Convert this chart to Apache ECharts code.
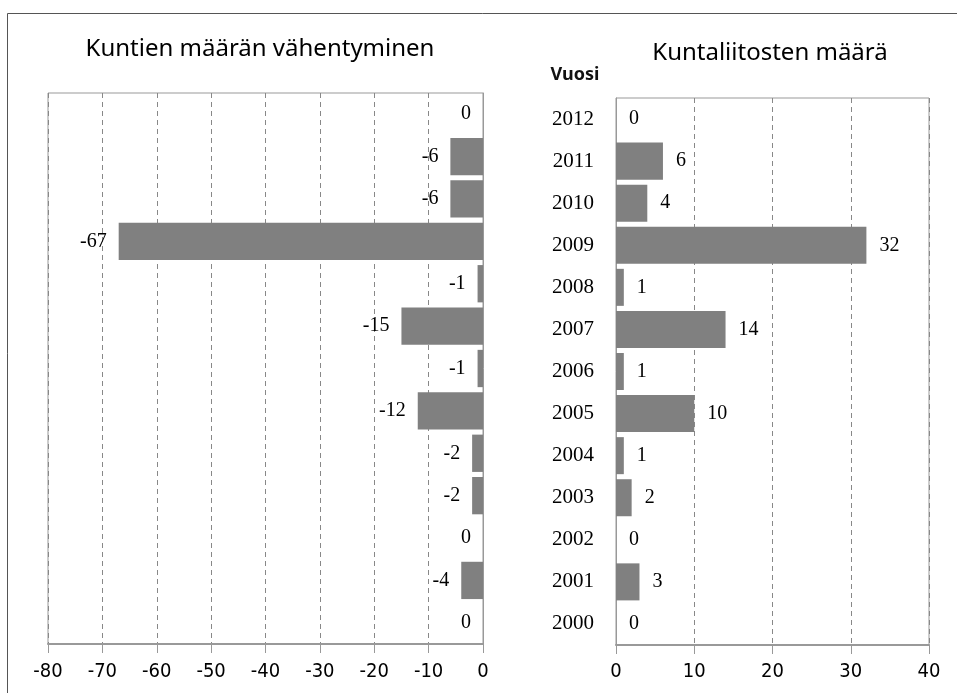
<!DOCTYPE html>
<html>
<head>
<meta charset="utf-8">
<script src="https://cdn.jsdelivr.net/npm/echarts@6/dist/echarts.min.js"></script>
<style>
  html, body { margin: 0; padding: 0; background: #fff; }
  #chart { width: 957px; height: 693px; }
</style>
</head>
<body>
<div id="chart"></div>
<script>
// vuodet alhaalta ylös
var years = ['2000','2001','2002','2003','2004','2005','2006','2007','2008','2009','2010','2011','2012'];
var decrease = [0, -4, 0, -2, -2, -12, -1, -15, -1, -67, -6, -6, 0];
var mergers = [0, 3, 0, 2, 1, 10, 1, 14, 1, 32, 4, 6, 0];
var leftTicks = [-80, 0, 10];   // min, max, interval
var rightTicks = [0, 40, 10];

var numFont = "'Liberation Sans Narrow', 'DejaVu Sans Condensed', sans-serif";
var serif = "'Liberation Serif', serif";
var gray = '#808080';

var chart = echarts.init(document.getElementById('chart'));
var option = {
  backgroundColor: '#fff',
  animation: false,
  graphic: [
    { type: 'rect', shape: { x: 7.5, y: 13.5, width: 980, height: 720 },
      style: { fill: 'none', stroke: '#555', lineWidth: 1 }, silent: true },
    { type: 'text', x: 260, y: 49,
      style: { text: 'Kuntien määrän vähentyminen', textAlign: 'center', textVerticalAlign: 'middle',
               font: '24px "Noto Sans"', fill: '#000' } },
    { type: 'text', x: 770, y: 53,
      style: { text: 'Kuntaliitosten määrä', textAlign: 'center', textVerticalAlign: 'middle',
               font: '24px "Noto Sans"', fill: '#000' } },
    { type: 'text', x: 575, y: 75,
      style: { text: 'Vuosi', textAlign: 'center', textVerticalAlign: 'middle',
               font: 'bold 18px "Noto Sans"', fill: '#111' } }
  ],
  grid: [
    { left: 48, right: 474, top: 93, bottom: 49, show: true, borderColor: '#999', borderWidth: 1 },
    { left: 616, right: 28, top: 98, bottom: 48, show: true, borderColor: '#999', borderWidth: 1 }
  ],
  xAxis: [
    {
      type: 'value', gridIndex: 0,
      min: leftTicks[0], max: leftTicks[1], interval: leftTicks[2],
      axisLine: { show: true, lineStyle: { color: '#999', width: 2 } },
      axisTick: { show: true, length: 9, lineStyle: { color: '#999' } },
      axisLabel: { color: '#000', fontSize: 20, fontFamily: numFont, margin: 18 },
      splitLine: { show: true, lineStyle: { color: '#888', type: [5, 4] } }
    },
    {
      type: 'value', gridIndex: 1,
      min: rightTicks[0], max: rightTicks[1], interval: rightTicks[2],
      axisLine: { show: true, lineStyle: { color: '#999', width: 2 } },
      axisTick: { show: true, length: 9, lineStyle: { color: '#999' } },
      axisLabel: { color: '#000', fontSize: 20, fontFamily: numFont, margin: 17 },
      splitLine: { show: true, lineStyle: { color: '#888', type: [5, 4] } }
    }
  ],
  yAxis: [
    {
      type: 'category', gridIndex: 0, data: years, position: 'right',
      axisLine: { show: true, lineStyle: { color: '#999' } },
      axisTick: { show: false },
      axisLabel: { show: false },
      splitLine: { show: false }
    },
    {
      type: 'category', gridIndex: 1, data: years,
      axisLine: { show: true, lineStyle: { color: '#999' } },
      axisTick: { show: false },
      axisLabel: { color: '#000', fontSize: 21, fontFamily: serif, margin: 22 },
      splitLine: { show: false }
    }
  ],
  series: [
    {
      type: 'bar', xAxisIndex: 0, yAxisIndex: 0, data: decrease,
      barWidth: '88%',
      itemStyle: { color: gray },
      label: { show: true, position: 'left', distance: 12, color: '#000', fontSize: 20, fontFamily: serif }
    },
    {
      type: 'bar', xAxisIndex: 1, yAxisIndex: 1, data: mergers,
      barWidth: '88%',
      itemStyle: { color: gray },
      label: { show: true, position: 'right', distance: 13, color: '#000', fontSize: 20, fontFamily: serif }
    }
  ]
};
chart.setOption(option);
</script>
</body>
</html>
